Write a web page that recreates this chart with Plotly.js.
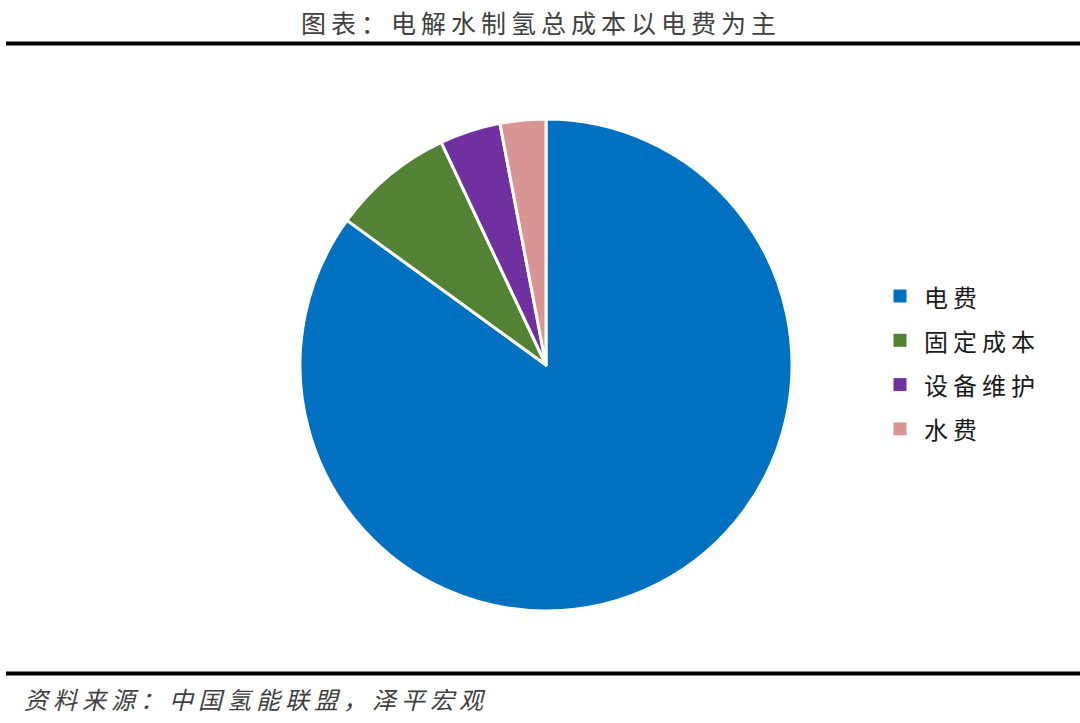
<!DOCTYPE html>
<html><head><meta charset="utf-8">
<script src="https://cdn.plot.ly/plotly-3.0.1.min.js"></script>
<style>
body{margin:0;background:#fff;}
.annotation-text{letter-spacing:5px;}
</style>
</head><body>
<div id="chart" style="width:1080px;height:723px;"></div>
<script>
const categories = ["电费", "固定成本", "设备维护", "水费"];
const shares = [85, 8, 4, 3];
const colors = ["#0070C0", "#548235", "#7030A0", "#D99594"];
const titleText = "图表：电解水制氢总成本以电费为主";
const sourceText = "资料来源：中国氢能联盟，泽平宏观";

const W = 1080, H = 723;
const cx = 546, cy = 365, r = 246;

const trace = {
  type: "pie",
  labels: categories,
  values: shares,
  sort: false,
  direction: "clockwise",
  rotation: 0,
  textinfo: "none",
  hoverinfo: "label+percent",
  marker: {colors: colors, line: {color: "#ffffff", width: 3}},
  domain: {x: [(cx - r) / W, (cx + r) / W], y: [(H - cy - r) / H, (H - cy + r) / H]}
};

const shapes = [
  {type: "line", xref: "paper", yref: "paper", x0: 6 / W, x1: 1, y0: (H - 43.5) / H, y1: (H - 43.5) / H, line: {color: "#000", width: 4}},
  {type: "line", xref: "paper", yref: "paper", x0: 6 / W, x1: 1, y0: (H - 673.5) / H, y1: (H - 673.5) / H, line: {color: "#000", width: 4}}
];
const annotations = [
  {text: titleText, xref: "paper", yref: "paper", x: 541 / W, y: (H - 22) / H, xanchor: "center", yanchor: "middle", showarrow: false,
   font: {size: 25, color: "#404040", family: "Noto Sans CJK SC"}},
  {text: "<i>" + sourceText + "</i>", xref: "paper", yref: "paper", x: 22 / W, y: (H - 698) / H, xanchor: "left", yanchor: "middle", showarrow: false,
   font: {size: 24, color: "#404040", family: "Noto Sans CJK SC"}}
];

// manual legend (layout positions only)
const legX = 900, legTextX = 922, legY0 = 296, legDy = 44.3, mk = 13;
categories.forEach(function(c, i){
  const y = legY0 + i * legDy;
  shapes.push({type: "rect", xref: "paper", yref: "paper",
    x0: (legX - mk / 2) / W, x1: (legX + mk / 2) / W, y0: (H - y - mk / 2) / H, y1: (H - y + mk / 2) / H,
    fillcolor: colors[i], line: {width: 0}});
  annotations.push({text: c, xref: "paper", yref: "paper", x: legTextX / W, y: (H - y) / H, xanchor: "left", yanchor: "middle",
    showarrow: false, font: {size: 24, color: "#1a1a1a", family: "Noto Sans CJK SC"}});
});

const layout = {
  width: W, height: H,
  margin: {l: 0, r: 0, t: 0, b: 0},
  paper_bgcolor: "#ffffff",
  font: {family: "Noto Sans CJK SC, sans-serif", color: "#000"},
  showlegend: false,
  shapes: shapes,
  annotations: annotations
};

Plotly.newPlot("chart", [trace], layout, {displayModeBar: false});
</script>
</body></html>
